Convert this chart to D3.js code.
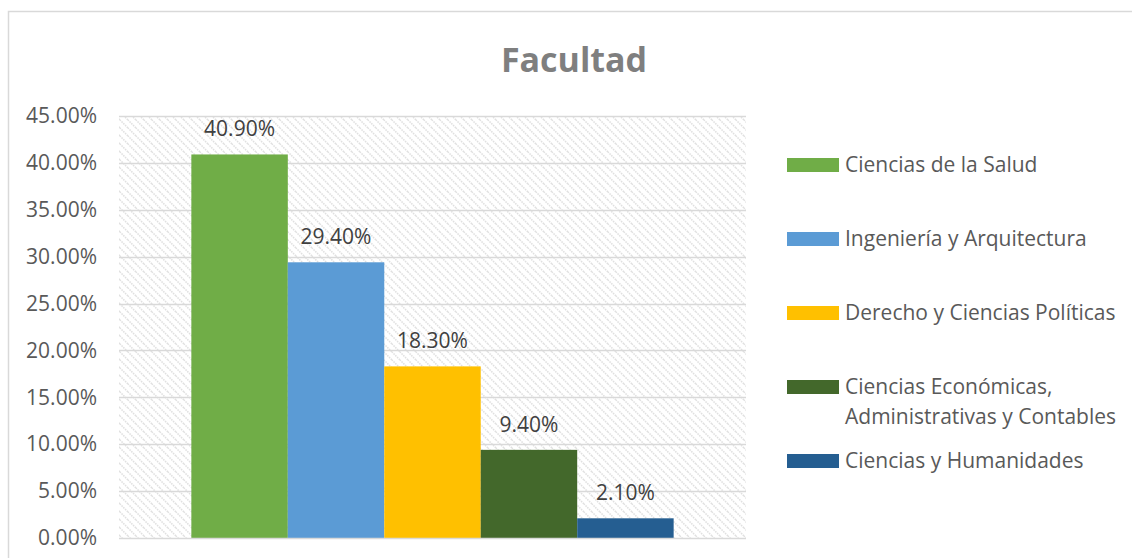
<!DOCTYPE html>
<html>
<head>
<meta charset="utf-8">
<script src="https://cdn.jsdelivr.net/npm/d3@7"></script>
<style>
  body { margin: 0; background: #fff; }
  svg text { font-family: "Open Sans", sans-serif; }
</style>
</head>
<body>
<div id="chart"></div>
<script>
var w = 1132,
    h = 558;

// data
var categories = ["Ciencias de la Salud", "Ingeniería y Arquitectura", "Derecho y Ciencias Políticas",
  "Ciencias Económicas, Administrativas y Contables", "Ciencias y Humanidades"];
var values = [0.409, 0.294, 0.183, 0.094, 0.021];
var legendLines = [["Ciencias de la Salud"], ["Ingeniería y Arquitectura"], ["Derecho y Ciencias Políticas"],
  ["Ciencias Económicas,", "Administrativas y Contables"], ["Ciencias y Humanidades"]];
var colors = ["#70ad47", "#5b9bd5", "#ffc000", "#43682b", "#255e91"];
var yTicks = [0, 0.05, 0.10, 0.15, 0.20, 0.25, 0.30, 0.35, 0.40, 0.45];

var data = categories.map(function(c, i) { return {name: c, value: values[i], color: colors[i], lines: legendLines[i]}; });

var svg = d3.select("#chart")
  .append("svg")
  .attr("width", w)
  .attr("height", h);

svg.append("rect").attr("width", w).attr("height", h).attr("fill", "#fff");

// hatch for plot area
var defs = svg.append("defs");
var pat = defs.append("pattern")
  .attr("id", "hatch")
  .attr("patternUnits", "userSpaceOnUse")
  .attr("width", 8)
  .attr("height", 8);
pat.append("rect").attr("width", 8).attr("height", 8).attr("fill", "#fff");
pat.append("path")
  .attr("d", "M-2,-2L10,10M-2,6L2,10M6,-2L10,2")
  .attr("stroke", "#e0e0e0")
  .attr("stroke-width", 1.5)
  .attr("stroke-dasharray", "1.5,1");

// chart border
svg.append("rect")
  .attr("x", 8.5).attr("y", 11.5)
  .attr("width", 1140).attr("height", 560)
  .attr("fill", "none")
  .attr("stroke", "#d9d9d9")
  .attr("stroke-width", 1.5);

var plotLeft = 119, plotRight = 746, plotTop = 116, plotBottom = 538;

var y = d3.scaleLinear().domain([0, 0.45]).range([plotBottom, plotTop]);
var x = d3.scaleBand().domain(categories).range([plotLeft, plotRight]).paddingInner(0).paddingOuter(0.75);

// plot area background
svg.append("rect")
  .attr("x", plotLeft).attr("y", plotTop)
  .attr("width", plotRight - plotLeft).attr("height", plotBottom - plotTop)
  .attr("fill", "url(#hatch)");

// gridlines
svg.append("g")
  .selectAll("line")
  .data(yTicks.slice(1))
  .enter()
  .append("line")
  .attr("x1", plotLeft).attr("x2", plotRight)
  .attr("y1", function(d) { return Math.round(y(d)) + 0.5; })
  .attr("y2", function(d) { return Math.round(y(d)) + 0.5; })
  .attr("stroke", "#d9d9d9")
  .attr("stroke-width", 1.5);

// y axis labels
var yAxis = d3.axisLeft(y).tickValues(yTicks).tickFormat(d3.format(".2%")).tickSize(0).tickPadding(22);
var gy = svg.append("g").attr("transform", "translate(" + plotLeft + ",0)").call(yAxis);
gy.select(".domain").remove();
gy.selectAll("text")
  .attr("font-size", "21px")
  .attr("font-family", "Open Sans, sans-serif")
  .attr("fill", "#595959");

// bars
svg.selectAll(".bar")
  .data(data)
  .enter()
  .append("rect")
  .attr("class", "bar")
  .attr("x", function(d) { return x(d.name); })
  .attr("y", function(d) { return y(d.value); })
  .attr("width", x.bandwidth())
  .attr("height", function(d) { return y(0) - y(d.value); })
  .attr("fill", function(d) { return d.color; });

// bottom axis line
svg.append("line")
  .attr("x1", plotLeft).attr("x2", plotRight)
  .attr("y1", plotBottom + 0.5).attr("y2", plotBottom + 0.5)
  .attr("stroke", "#d9d9d9")
  .attr("stroke-width", 1.5);

// data labels
svg.selectAll(".label")
  .data(data)
  .enter()
  .append("text")
  .attr("class", "label")
  .attr("x", function(d) { return x(d.name) + x.bandwidth() / 2; })
  .attr("y", function(d) { return y(d.value) - 18; })
  .attr("text-anchor", "middle")
  .attr("font-size", "21px")
  .attr("fill", "#404040")
  .text(function(d) { return d3.format(".2%")(d.value); });

// title
svg.append("text")
  .attr("x", 574)
  .attr("y", 72)
  .attr("text-anchor", "middle")
  .attr("font-size", "34px")
  .attr("font-weight", "bold")
  .attr("fill", "#7f7f7f")
  .text("Facultad");

// legend
var legend = svg.selectAll(".legend")
  .data(data)
  .enter()
  .append("g")
  .attr("class", "legend")
  .attr("transform", function(d, i) { return "translate(787," + (165 + i * 74) + ")"; });

legend.append("rect")
  .attr("x", 0).attr("y", -7)
  .attr("width", 52).attr("height", 14)
  .attr("fill", function(d) { return d.color; });

legend.each(function(d) {
  var t = d3.select(this).append("text")
    .attr("x", 58)
    .attr("y", 0)
    .attr("font-size", "21px")
    .attr("fill", "#595959");
  d.lines.forEach(function(line, j) {
    t.append("tspan")
      .attr("x", 58)
      .attr("dy", j === 0 ? "0.35em" : "30px")
      .text(line);
  });
});
</script>
</body>
</html>
